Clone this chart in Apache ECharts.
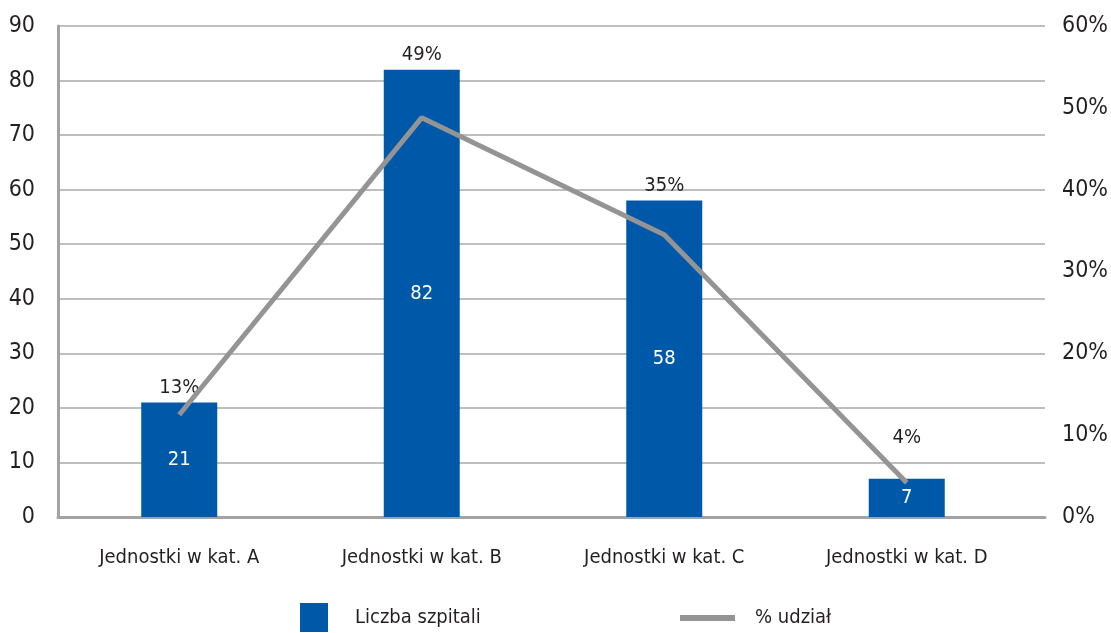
<!DOCTYPE html>
<html><head><meta charset="utf-8">
<script src="https://cdn.jsdelivr.net/npm/echarts@6/dist/echarts.min.js"></script>
<style>html,body{margin:0;padding:0;background:#fff}#c{width:1111px;height:633px}</style>
</head><body><div id="c"></div>
<script>
const categories = ['Jednostki w kat. A', 'Jednostki w kat. B', 'Jednostki w kat. C', 'Jednostki w kat. D'];
const hospitals = [21, 82, 58, 7];
const shareLine = [0.125, 0.488, 0.345, 0.042];
const shareLabels = ['13%', '49%', '35%', '4%'];
const leftTicks = [0, 10, 20, 30, 40, 50, 60, 70, 80, 90];
const rightTicks = ['0%', '10%', '20%', '30%', '40%', '50%', '60%'];

const FONT = '"Liberation Sans Narrow", "DejaVu Sans Condensed", sans-serif';
const TXT = '#231f20';
const chart = echarts.init(document.getElementById('c'));
chart.setOption({
  animation: false,
  textStyle: { fontFamily: FONT },
  grid: [
    { left: 58, right: 83, top: 26, bottom: 116, containLabel: false, outerBoundsMode: 'none' },
    { left: 58, right: 66, top: 26, bottom: 116, containLabel: false, outerBoundsMode: 'none' }
  ],
  legend: [
    { data: ['Liczba szpitali'], left: 300, top: 603, padding: 0, itemWidth: 28, itemHeight: 29, icon: 'rect',
      textStyle: { fontFamily: FONT, fontSize: 20, color: TXT, padding: [0, 0, 0, 22] } },
    { data: ['% udział'], left: 680, top: 608, padding: 0, itemWidth: 55, itemHeight: 6, icon: 'rect',
      itemStyle: { color: '#949494' },
      textStyle: { fontFamily: FONT, fontSize: 20, color: TXT, padding: [0, 0, 0, 15] } }
  ],
  xAxis: [
    { type: 'category', data: categories, gridIndex: 0,
      axisLine: { show: false },
      axisTick: { show: false },
      axisLabel: { fontFamily: FONT, fontSize: 20, color: TXT, margin: 31 } },
    { type: 'category', data: categories, gridIndex: 1,
      axisLine: { lineStyle: { color: '#a3a3a3', width: 3 } },
      axisTick: { show: false }, axisLabel: { show: false } }
  ],
  yAxis: [
    { type: 'value', gridIndex: 0, min: 0, max: leftTicks[leftTicks.length - 1], interval: 10,
      axisLine: { show: false }, axisTick: { show: false }, splitLine: { show: false },
      axisLabel: { show: false } },
    { type: 'value', gridIndex: 0, min: 0, max: 0.6, interval: 0.1,
      axisLine: { show: false }, axisTick: { show: false }, splitLine: { show: false },
      axisLabel: { show: false } },
    { type: 'value', gridIndex: 1, min: 0, max: leftTicks[leftTicks.length - 1], interval: 10, z: 0,
      axisLine: { show: true, lineStyle: { color: '#a3a3a3', width: 3 } },
      axisTick: { show: false },
      splitLine: { lineStyle: { color: '#a9a9a9', width: 1.5 } },
      axisLabel: { fontFamily: FONT, fontSize: 23, color: TXT, margin: 23 } },
    { type: 'value', gridIndex: 1, position: 'right', min: 0, max: 0.6, interval: 0.1,
      axisLine: { show: false }, axisTick: { show: false }, splitLine: { show: false },
      axisLabel: { fontFamily: FONT, fontSize: 23, color: TXT, margin: 17,
        formatter: (v) => rightTicks[Math.round(v * 10)] } }
  ],
  series: [
    { name: 'Liczba szpitali', type: 'bar', xAxisIndex: 0, yAxisIndex: 0, data: hospitals, barWidth: 76, z: 2,
      itemStyle: { color: '#0058a9' },
      label: { show: true, position: 'inside', color: '#fff', fontFamily: FONT, fontSize: 20 } },
    { name: 'pct', type: 'bar', xAxisIndex: 0, yAxisIndex: 0, barGap: '-100%', barWidth: 76, z: 1,
      data: hospitals.map((v, i) => i === 3 ? { value: v, label: { offset: [0, -26] } } : v),
      itemStyle: { color: 'rgba(0,0,0,0)' },
      label: { show: true, position: 'top', distance: 5, color: TXT, fontFamily: FONT, fontSize: 20,
        formatter: (p) => shareLabels[p.dataIndex] } },
    { name: '% udział', type: 'line', xAxisIndex: 0, yAxisIndex: 1, data: shareLine, z: 3,
      showSymbol: false, symbol: 'none',
      lineStyle: { color: '#949494', width: 5 }, itemStyle: { color: '#949494' } }
  ]
});
</script></body></html>
